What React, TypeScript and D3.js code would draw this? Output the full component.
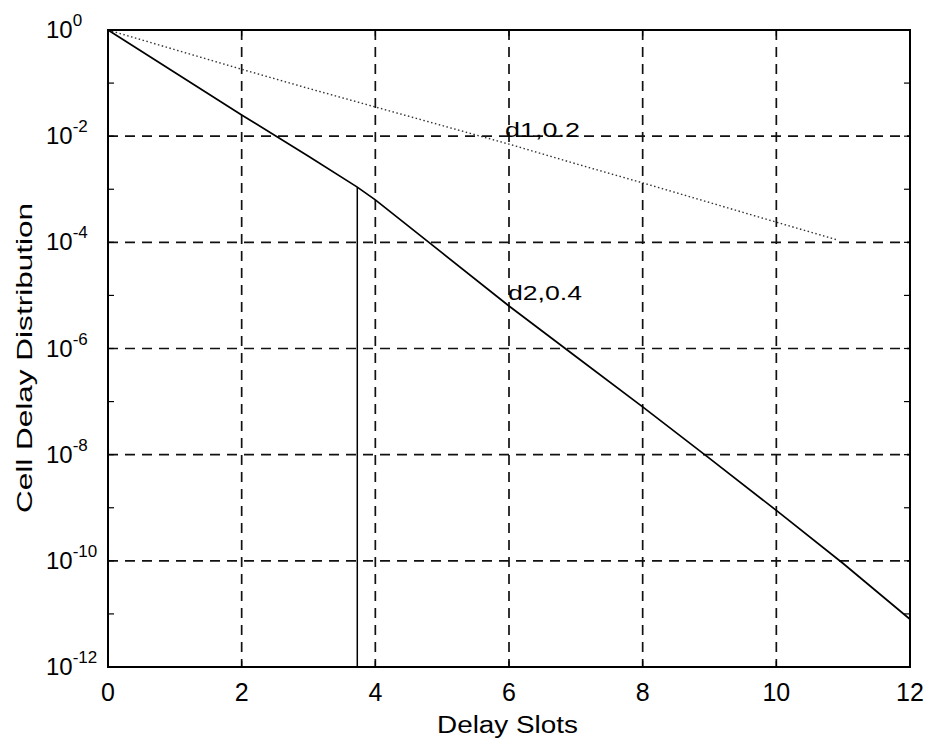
import React from "react";
import * as d3 from "d3";

const xTicks = [0, 2, 4, 6, 8, 10, 12];
const yExponents = [0, -2, -4, -6, -8, -10, -12];
const yMinorExponents = [-1, -3, -5, -7, -9, -11];

// d2,0.4 curve (log10 values)
const d2X = [0, 1, 2, 3, 3.73, 4, 5, 6, 7, 8, 9, 10, 11, 12];
const d2LogY = [0, -0.8, -1.6, -2.38, -2.96, -3.2, -4.2, -5.2, -6.15, -7.1, -8.07, -9.05, -10.05, -11.1];
// vertical drop segment
const dropX = [3.73, 3.73];
const dropLogY = [-2.96, -12];
// d1,0.2 curve (log10 values)
const d1X = [0, 1, 2, 3, 4, 5, 6, 7, 8, 9, 10, 10.9];
const d1LogY = [0, -0.37, -0.74, -1.1, -1.45, -1.8, -2.15, -2.52, -2.88, -3.25, -3.62, -3.95];

const W = 930, H = 747;
const L = 108, R = 910, T = 30, B = 667;
const FONT = "'Liberation Sans', Arial, Helvetica, sans-serif";

export default function App() {
  const x = d3.scaleLinear().domain([0, 12]).range([L, R]);
  const y = d3.scaleLog().domain([1e-12, 1]).range([B, T]);
  const line = d3
    .line<[number, number]>()
    .x((d) => x(d[0]))
    .y((d) => y(Math.pow(10, d[1])));
  const d2 = line(d2X.map((v, i) => [v, d2LogY[i]] as [number, number])) || "";
  const drop = line(dropX.map((v, i) => [v, dropLogY[i]] as [number, number])) || "";
  const d1 = line(d1X.map((v, i) => [v, d1LogY[i]] as [number, number])) || "";

  return (
    <svg
      width={W}
      height={H}
      style={{ position: "absolute", left: 0, top: 0, background: "#fff" }}
      fontFamily={FONT}
    >
      <rect x={0} y={0} width={W} height={H} fill="#fff" />
      {/* grid */}
      {xTicks.slice(1, -1).map((t) => (
        <line key={"gx" + t} x1={x(t)} x2={x(t)} y1={T} y2={B} stroke="#111" strokeWidth={1.7} strokeDasharray="10,7" />
      ))}
      {yExponents.slice(1, -1).map((e) => (
        <line key={"gy" + e} x1={L} x2={R} y1={y(Math.pow(10, e))} y2={y(Math.pow(10, e))} stroke="#111" strokeWidth={1.7} strokeDasharray="10,7" />
      ))}
      {/* ticks */}
      {xTicks.map((t) => (
        <g key={"tx" + t}>
          <line x1={x(t)} x2={x(t)} y1={B} y2={B - 6} stroke="#000" strokeWidth={1.2} />
          <line x1={x(t)} x2={x(t)} y1={T} y2={T + 6} stroke="#000" strokeWidth={1.2} />
        </g>
      ))}
      {[...yExponents, ...yMinorExponents].map((e) => (
        <g key={"ty" + e}>
          <line x1={L} x2={L + 6} y1={y(Math.pow(10, e))} y2={y(Math.pow(10, e))} stroke="#000" strokeWidth={1.2} />
          <line x1={R} x2={R - 6} y1={y(Math.pow(10, e))} y2={y(Math.pow(10, e))} stroke="#000" strokeWidth={1.2} />
        </g>
      ))}
      {/* data */}
      <path d={d1} fill="none" stroke="#333" strokeWidth={1.4} strokeDasharray="1.5,2.5" />
      <path d={d2} fill="none" stroke="#000" strokeWidth={1.7} />
      <path d={drop} fill="none" stroke="#000" strokeWidth={1.5} />
      {/* box */}
      <rect x={L} y={T} width={R - L} height={B - T} fill="none" stroke="#000" strokeWidth={2} />
      {/* labels */}
      {xTicks.map((t) => (
        <text key={"lx" + t} x={x(t)} y={701} fontSize={25} textAnchor="middle" fill="#000">
          {t}
        </text>
      ))}
      {yExponents.map((e) => (
        <text key={"ly" + e} x={46} y={y(Math.pow(10, e)) + 8} fontSize={24} fill="#000">
          10
          <tspan dy={-12} fontSize={17}>{e === 0 ? "0" : "-" + Math.abs(e)}</tspan>
        </text>
      ))}
      <text x={437} y={733} fontSize={23} textLength={141} lengthAdjust="spacingAndGlyphs" fill="#000">
        Delay Slots
      </text>
      <text
        transform="translate(32,513) rotate(-90)"
        fontSize={22}
        textLength={310}
        lengthAdjust="spacingAndGlyphs"
        fill="#000"
      >
        Cell Delay Distribution
      </text>
      <text x={505} y={137} fontSize={21} textLength={75} lengthAdjust="spacingAndGlyphs" fill="#000">d1,0.2</text>
      <text x={508} y={300} fontSize={21} textLength={74} lengthAdjust="spacingAndGlyphs" fill="#000">d2,0.4</text>
    </svg>
  );
}
